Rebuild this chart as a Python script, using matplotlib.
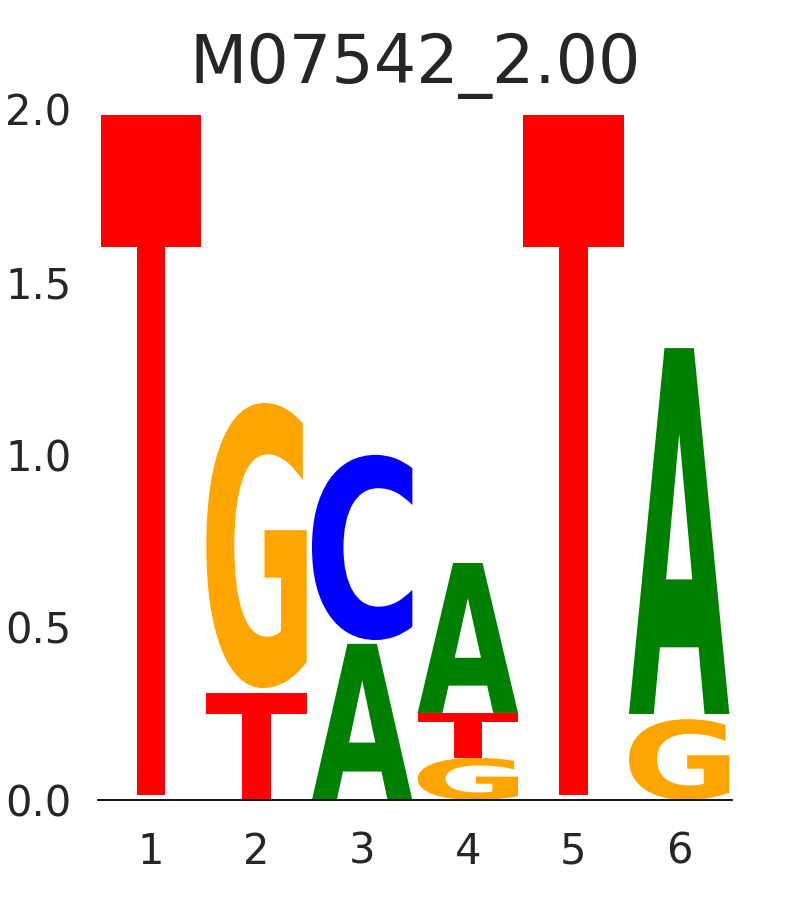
import numpy as np
import matplotlib
matplotlib.use("Agg")
import matplotlib.pyplot as plt
from matplotlib.textpath import TextPath
from matplotlib.patches import PathPatch
from matplotlib.font_manager import FontProperties
from matplotlib.transforms import Affine2D

# Data: per position, letters stacked bottom -> top with their heights (bits)
title = "M07542_2.00"
positions = [1, 2, 3, 4, 5, 6]
stack_letters = [
    ["A", "C", "G", "T"],
    ["T", "C", "G"],
    ["A", "T", "C"],
    ["G", "T", "A"],
    ["A", "C", "G", "T"],
    ["G", "C", "A"],
]
stack_heights = [
    [0.005, 0.005, 0.005, 1.968],
    [0.310, 0.014, 0.825],
    [0.452, 0.011, 0.536],
    [0.122, 0.130, 0.434],
    [0.005, 0.005, 0.005, 1.968],
    [0.234, 0.015, 1.059],
]
yticks = [0.0, 0.5, 1.0, 1.5, 2.0]

colors = {"A": "#008000", "C": "#0000ff", "G": "#ffa500", "T": "#ff0000"}
glyph_font = FontProperties(family="DejaVu Sans", weight="bold")
width = 0.95
min_draw = 0.02


def draw_letter(ax, letter, x, bottom, height):
    path = TextPath((0, 0), letter, size=1, prop=glyph_font)
    ext = path.get_extents()
    tr = (Affine2D()
          .translate(-ext.x0, -ext.y0)
          .scale(width / ext.width, height / ext.height)
          .translate(x - width / 2, bottom))
    ax.add_patch(PathPatch(tr.transform_path(path), facecolor=colors[letter],
                           edgecolor="none", lw=0))


fig = plt.figure(figsize=(8.1, 9.0), dpi=100)
ax = fig.add_axes([98 / 810, 100 / 900, 634 / 810, 691 / 900])

for x, letters, heights in zip(positions, stack_letters, stack_heights):
    bottom = 0.0
    for letter, h in zip(letters, heights):
        if h >= min_draw:
            draw_letter(ax, letter, x, bottom, h)
        bottom += h

ax.set_xlim(0.5, 6.5)
ax.set_ylim(0, 2.0)
ax.set_xticks(positions)
ax.set_yticks(yticks)
ax.set_yticklabels([f"{v:.1f}" for v in yticks])

for lab in ax.get_xticklabels() + ax.get_yticklabels():
    lab.set_fontfamily("DejaVu Sans")
    lab.set_fontsize(30)
    lab.set_color("#262626")
ax.tick_params(axis="both", length=0)
ax.tick_params(axis="x", pad=22)
ax.tick_params(axis="y", pad=19)

for side in ["top", "right", "left"]:
    ax.spines[side].set_visible(False)
ax.spines["bottom"].set_color("black")
ax.spines["bottom"].set_linewidth(1.3)

ax.set_title(title, fontfamily="DejaVu Sans", fontsize=48, color="#262626", pad=19)

fig.savefig("out.png", dpi=100, facecolor="white")
